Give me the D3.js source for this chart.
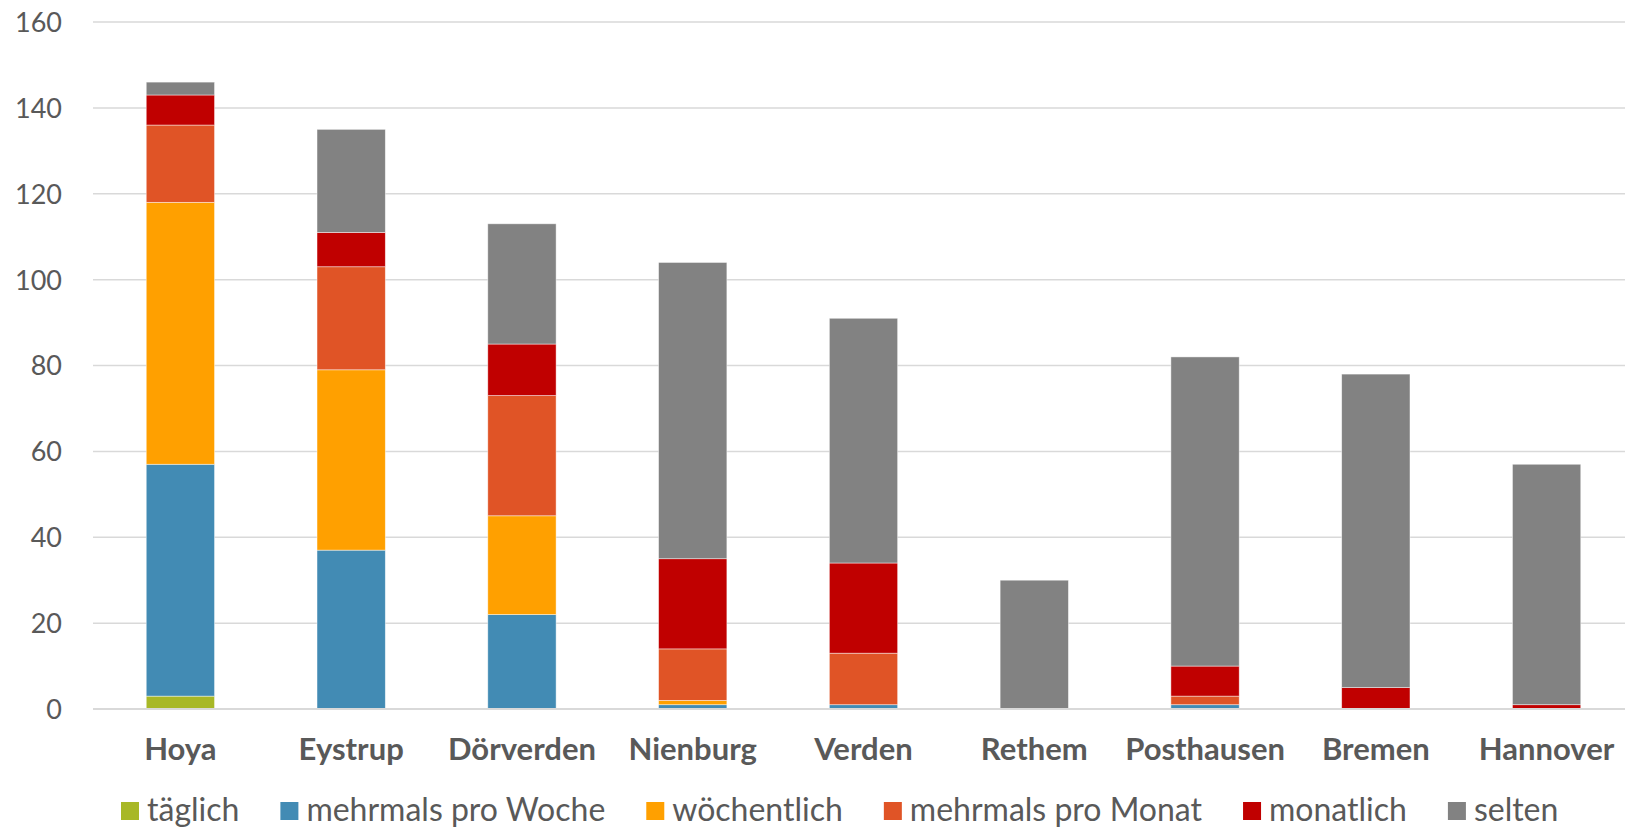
<!DOCTYPE html>
<html><head><meta charset="utf-8">
<script src="https://cdn.jsdelivr.net/npm/d3@7"></script>
<style>
html,body{margin:0;padding:0;background:#fff;}
svg text{font-family:Lato,"Open Sans",sans-serif;fill:#595959;}
</style></head>
<body>
<svg id="c" width="1625" height="829"></svg>
<script>
const categories = ["Hoya","Eystrup","Dörverden","Nienburg","Verden","Rethem","Posthausen","Bremen","Hannover"];
const seriesNames = ["täglich","mehrmals pro Woche","wöchentlich","mehrmals pro Monat","monatlich","selten"];
const taeglich        = [3, 0, 0, 0, 0, 0, 0, 0, 0];
const mehrmalsWoche   = [54, 37, 22, 1, 1, 0, 1, 0, 0];
const woechentlich    = [61, 42, 23, 1, 0, 0, 0, 0, 0];
const mehrmalsMonat   = [18, 24, 28, 12, 12, 0, 2, 0, 0];
const monatlich       = [7, 8, 12, 21, 21, 0, 7, 5, 1];
const selten          = [3, 24, 28, 69, 57, 30, 72, 73, 56];
const yTicks = [0,20,40,60,80,100,120,140,160];
const colors = ["#A8B826","#428BB4","#FFA000","#E05426","#C00000","#828282"];

const seriesValues = [taeglich, mehrmalsWoche, woechentlich, mehrmalsMonat, monatlich, selten];
const rows = categories.map((c,i)=>{
  const r = {cat:c};
  seriesNames.forEach((s,j)=>r[s]=seriesValues[j][i]);
  return r;
});

const svg = d3.select("#c");
const x = d3.scaleBand().domain(categories).range([95,1632]).paddingInner(0.6).paddingOuter(0.3);
const y = d3.scaleLinear().domain([0,160]).range([709,22]);

// gridlines
svg.append("g").selectAll("line").data(yTicks.filter(t=>t>0)).join("line")
  .attr("x1",93).attr("x2",1625)
  .attr("y1",d=>y(d)).attr("y2",d=>y(d))
  .attr("stroke","#d9d9d9").attr("stroke-width",1.5);

// y axis labels
const yAxis = d3.axisLeft(y).tickValues(yTicks).tickSize(0).tickPadding(0);
const ya = svg.append("g").attr("transform","translate(62,0)").call(yAxis);
ya.select(".domain").remove();
ya.selectAll("text").style("font-size","27px").attr("dy","0.35em").attr("fill","#595959");

// stacks
const stack = d3.stack().keys(seriesNames)(rows);
svg.append("g").selectAll("g").data(stack).join("g")
  .attr("fill",(d,i)=>colors[i])
  .selectAll("rect").data(d=>d.filter(p=>p[1]-p[0]>0)).join("rect")
  .attr("x",d=>x(d.data.cat))
  .attr("width",x.bandwidth())
  .attr("y",d=>y(d[1]))
  .attr("height",d=>y(d[0])-y(d[1]))
  .attr("stroke","#ffffff").attr("stroke-opacity",0.6).attr("stroke-width",0.75);

// baseline
svg.append("line").attr("x1",93).attr("x2",1625).attr("y1",y(0)).attr("y2",y(0))
  .attr("stroke","#d9d9d9").attr("stroke-width",2);

// x axis
const xAxis = d3.axisBottom(x).tickSize(0).tickPadding(0);
const xa = svg.append("g").attr("transform",`translate(0,${y(0)})`).call(xAxis);
xa.select(".domain").remove();
xa.selectAll("text").attr("y",51).attr("dy","0").style("font-size","31px").style("font-weight","bold").attr("fill","#595959");

// legend
const lg = svg.append("g");
let lx = 121;
seriesNames.forEach((s,i)=>{
  lg.append("rect").attr("x",lx).attr("y",802).attr("width",18).attr("height",18).attr("fill",colors[i]);
  const t = lg.append("text").attr("x",lx+26).attr("y",821).style("font-size","32px").text(s);
  lx += 26 + t.node().getComputedTextLength() + 41;
});
</script>
</body></html>
